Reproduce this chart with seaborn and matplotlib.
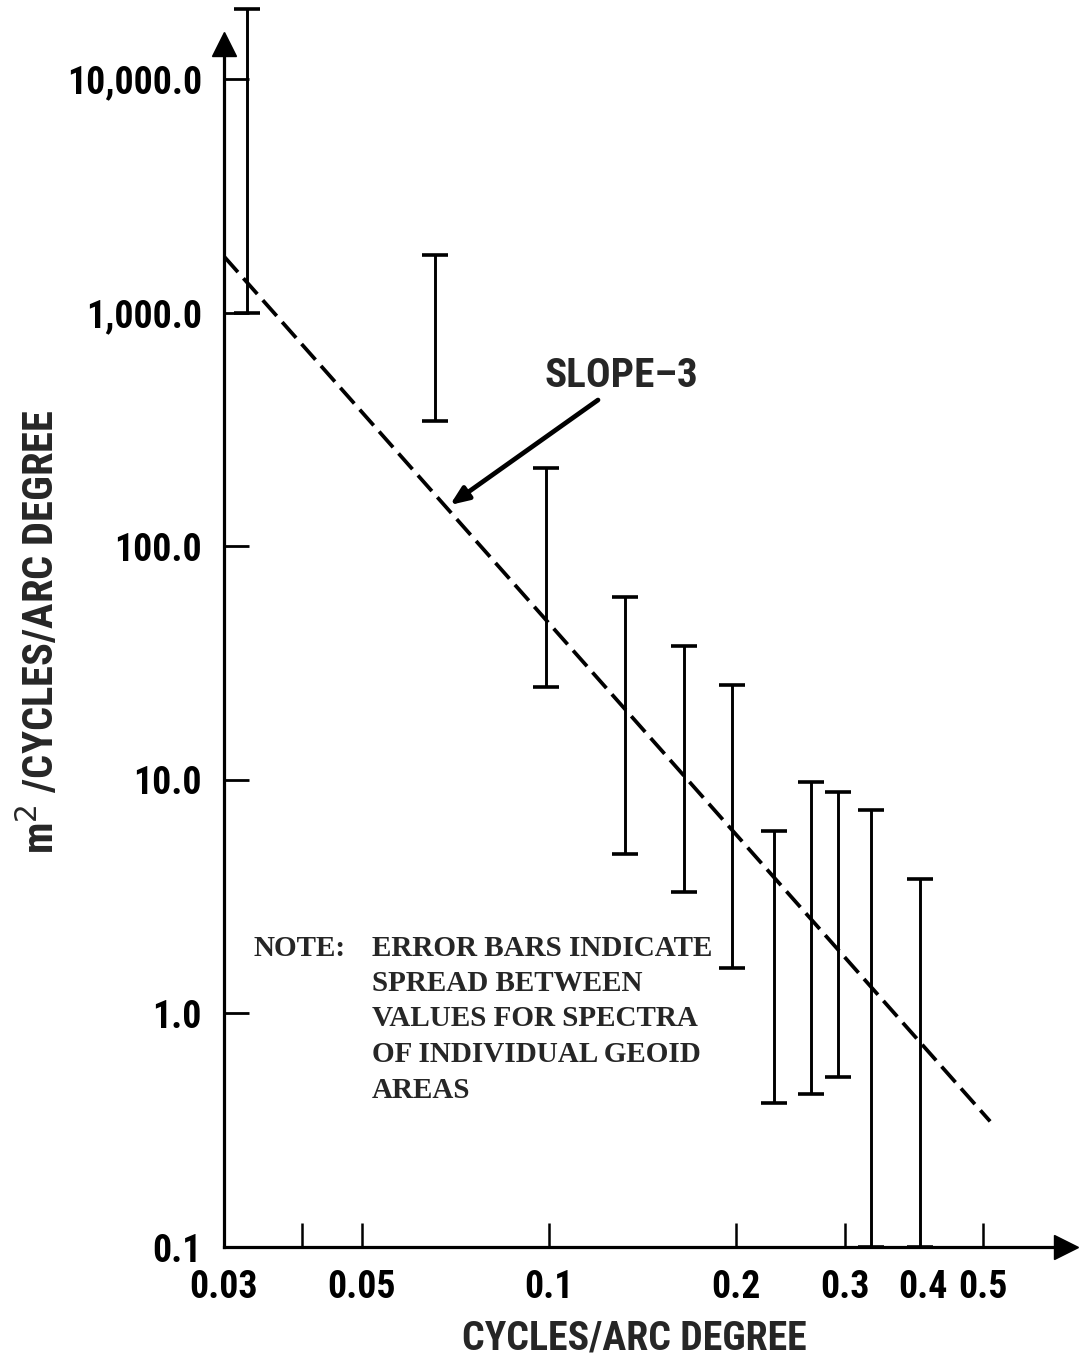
import numpy as np
import pandas as pd
import matplotlib
matplotlib.use("Agg")
import matplotlib.pyplot as plt
import seaborn as sns
from matplotlib import font_manager as fm
from matplotlib.font_manager import FontProperties

# ---------------- data ----------------
freq = [0.0327, 0.0655, 0.0989, 0.1326, 0.1652, 0.1977, 0.2306, 0.2649, 0.2922, 0.3300, 0.3960]
upper = [19900, 1770, 216, 60.5, 37.3, 25.5, 6.05, 9.8, 8.9, 7.4, 3.77]
lower = [1000, 342, 25, 4.8, 3.3, 1.57, 0.412, 0.45, 0.533, 0.1, 0.1]
slope_x = [0.03, 0.514]
slope_y = [1740, 0.345]
ytick_vals = [0.1, 1, 10, 100, 1000, 10000]
ytick_labels = ["0.1", "1.0", "10.0", "100.0", "1,000.0", "10,000.0"]
xtick_vals = [0.03, 0.04, 0.05, 0.1, 0.2, 0.3, 0.4, 0.5]
xtick_labels = ["0.03", "", "0.05", "0.1", "0.2", "0.3", "0.4", "0.5"]
x_label = "CYCLES/ARC DEGREE"
y_label = "m$^2$ /CYCLES/ARC DEGREE"
slope_label = "SLOPE\u20133"
note_head = "NOTE:"
note_lines = ["ERROR BARS INDICATE", "SPREAD BETWEEN", "VALUES FOR SPECTRA",
              "OF INDIVIDUAL GEOID", "AREAS"]

df_bars = pd.DataFrame({"freq": freq, "lower": lower, "upper": upper})
df_slope = pd.DataFrame({"freq": slope_x, "power": slope_y})

# ---------------- style ----------------
sns.set_style("white")
plt.rcParams["font.family"] = ["DejaVu Sans"]


def pick_condensed():
    names = {f.name for f in fm.fontManager.ttflist}
    for p in ["Liberation Sans Narrow", "Roboto Condensed", "Noto Sans Condensed",
              "Open Sans Condensed", "DejaVu Sans Condensed"]:
        if p in names:
            return p, "normal"
    for fam in ["Noto Sans", "DejaVu Sans", "Open Sans", "Roboto"]:
        for f in fm.fontManager.ttflist:
            if f.name == fam and str(f.stretch) in ("condensed", "extra-condensed", "semi-condensed"):
                return fam, f.stretch
    return "DejaVu Sans", "normal"


cond_family, cond_stretch = pick_condensed()

W, H = 1085, 1363
fig = plt.figure(figsize=(W / 100, H / 100), dpi=100)
renderer = fig.canvas.get_renderer()


def measure(text, fp):
    t = fig.text(0, 0, text, fontproperties=fp)
    bb = t.get_window_extent(renderer)
    t.remove()
    return bb


def fit_fp(text, target_w, target_h):
    fp = FontProperties(family=cond_family, weight="bold", stretch=cond_stretch, size=20)
    bb = measure(text, fp)
    s = min(20 * target_w / bb.width, 20 * target_h / bb.height)
    return FontProperties(family=cond_family, weight="bold", stretch=cond_stretch, size=s)


fp_tick = fit_fp("10,000.0", 135, 40)
fp_xlab = fit_fp(x_label, 345, 46)
fp_ylab = fit_fp("m2 /CYCLES/ARC DEGREE", 445, 48)
fp_slope = fit_fp("SLOPE-3", 146, 42)

fp_note0 = FontProperties(family="Liberation Serif", weight="bold", size=20)
bbn = measure(note_lines[0], fp_note0)
fp_note = FontProperties(family="Liberation Serif", weight="bold",
                         size=20 * 340 / bbn.width)

# axes placement (pixels)
ax_l, ax_r, ax_t, ax_b = 224, 1066, 44, 1247
ax = fig.add_axes([ax_l / W, 1 - ax_b / H, (ax_r - ax_l) / W, (ax_b - ax_t) / H])
ax.set_xscale("log")
ax.set_yscale("log")
ax.set_xlim(0.03, 0.681)
ax.set_ylim(0.1, 14120)

# slope -3 dashed line
sns.lineplot(data=df_slope, x="freq", y="power", ax=ax, color="black",
             linewidth=2.7, dashes=False, legend=False)
ax.lines[-1].set_dashes((5.6, 2.2))

# error bars (spread between individual areas)
eb = ax.errorbar(df_bars["freq"], df_bars["lower"],
                 yerr=[np.zeros(len(df_bars)), df_bars["upper"] - df_bars["lower"]],
                 fmt="none", ecolor="black", elinewidth=2.1, capsize=9.5, capthick=2.6)
for art in eb.get_children():
    art.set_clip_on(False)

# axes look
for s in ["top", "right"]:
    ax.spines[s].set_visible(False)
for s in ["left", "bottom"]:
    ax.spines[s].set_linewidth(2.3)
    ax.spines[s].set_color("black")
ax.plot(0, 1, marker="^", ms=17, color="black", transform=ax.transAxes, clip_on=False)
ax.plot(1, 0, marker=">", ms=17, color="black", transform=ax.transAxes, clip_on=False)

ax.set_yticks(ytick_vals)
ax.set_yticklabels(ytick_labels)
ax.set_xticks(xtick_vals)
ax.set_xticklabels(xtick_labels)
ax.minorticks_off()
ax.tick_params(axis="y", left=True, direction="in", length=18, width=2.0, pad=16,
               colors="black")
ax.tick_params(axis="x", bottom=True, direction="in", length=17, width=1.8, pad=16,
               colors="black")
for lab in ax.get_yticklabels() + ax.get_xticklabels():
    lab.set_fontproperties(fp_tick)
# the 0.4 position carries an error bar instead of a separate tick mark
ax.xaxis.get_major_ticks()[xtick_vals.index(0.4)].tick1line.set_visible(False)

ax.set_xlabel("")
ax.set_ylabel("")


def px(x, y):
    return x / W, 1 - y / H


fig.text(*px(634, 1338), x_label, fontproperties=fp_xlab, ha="center", va="center")
fig.text(*px(40, 632), y_label, fontproperties=fp_ylab, ha="center", va="center",
         rotation=90)

# slope annotation
fig.text(*px(621, 376), slope_label, fontproperties=fp_slope, ha="center", va="center")
ax.annotate("", xy=px(450, 505), xycoords="figure fraction",
            xytext=px(598, 400), textcoords="figure fraction",
            arrowprops=dict(arrowstyle="-|>,head_length=1.1,head_width=0.45",
                            color="black", lw=3.4, shrinkA=0, shrinkB=0))

# note
fig.text(*px(254, 948), note_head, fontproperties=fp_note, ha="left", va="center")
for i, line in enumerate(note_lines):
    fig.text(*px(372, 948 + 35.5 * i), line, fontproperties=fp_note,
             ha="left", va="center")

fig.savefig("out.png", dpi=100, facecolor="white")
